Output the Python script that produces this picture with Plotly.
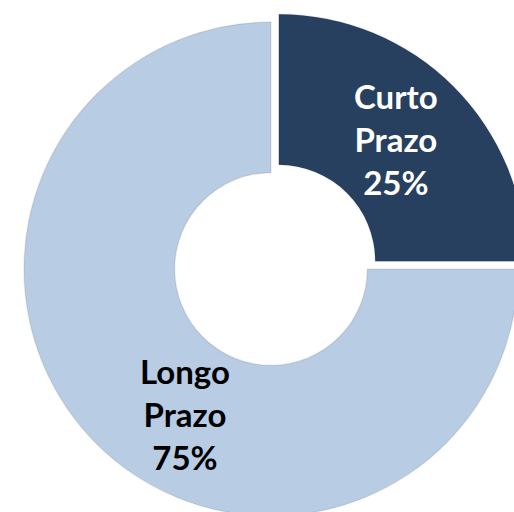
import plotly.graph_objects as go

labels = ["Curto Prazo", "Longo Prazo"]
values = [25, 75]
colors = ["#27405F", "#B8CCE4"]
text_colors = ["#FFFFFF", "#000000"]
pulls = [0.045, 0]

W, H = 540, 540
cx, cy, r = 271, 269, 247
maxpull = max(pulls)
half = r * (1 + maxpull)
dom_x = [(cx - half) / W, (cx + half) / W]
dom_y = [1 - (cy + half) / H, 1 - (cy - half) / H]

fig = go.Figure()
fig.add_trace(go.Pie(
    labels=labels, values=values, sort=False, direction="clockwise", rotation=0,
    hole=0.39, pull=pulls,
    marker=dict(colors=colors, line=dict(width=1.5, color="rgba(0,0,0,0.08)")),
    textinfo="none", hoverinfo="label+percent", showlegend=False,
    domain=dict(x=dom_x, y=dom_y),
))

total = sum(values)
label_pos = [(396, 139), (185, 414)]
for lab, v, tc, (px, py) in zip(labels, values, text_colors, label_pos):
    txt = "<br>".join(lab.split(" ")) + "<br>%d%%" % round(100 * v / total)
    fig.add_annotation(x=px / W, y=1 - py / H, xref="paper", yref="paper",
                       text="<b>" + txt + "</b>", showarrow=False,
                       xanchor="center", yanchor="middle",
                       font=dict(family="Lato", size=33, color=tc))

fig.update_layout(width=W, height=H, margin=dict(l=0, r=0, t=0, b=0),
                  paper_bgcolor="white", plot_bgcolor="white")

fig.write_html("out.html", config={"displayModeBar": False}, post_script=(
    "document.body.style.margin='0';document.body.style.overflow='hidden';"
    "document.documentElement.style.overflow='hidden';"))
